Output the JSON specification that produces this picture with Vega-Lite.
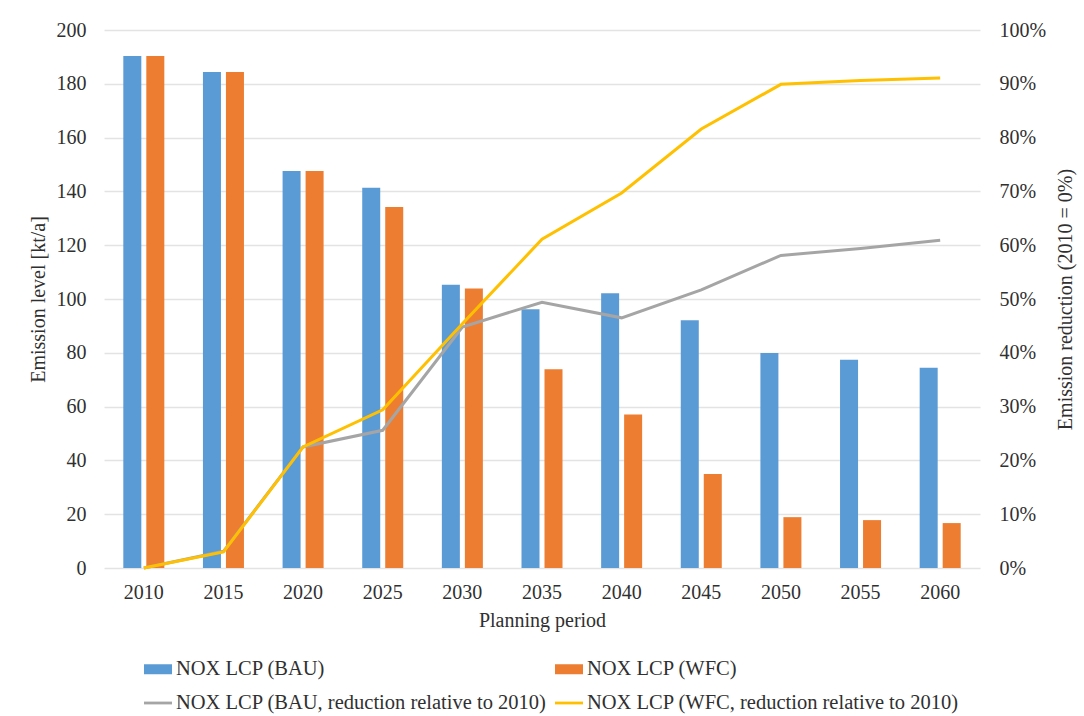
{
  "$schema": "https://vega.github.io/schema/vega-lite/v6.json",
  "width": 876,
  "height": 538,
  "autosize": {"type": "none"},
  "padding": {"left": 104, "top": 30, "right": 104, "bottom": 148},
  "background": "white",
  "config": {
    "font": "Times New Roman",
    "view": {"stroke": null},
    "axis": {
      "labelFont": "Times New Roman",
      "labelFontSize": 20,
      "labelColor": "#303030",
      "titleFont": "Times New Roman",
      "titleFontSize": 20,
      "titleFontWeight": "normal",
      "titleColor": "#303030",
      "ticks": false,
      "tickSize": 0,
      "domain": false,
      "gridColor": "#E3E3E3",
      "gridWidth": 1.3
    },
    "legend": {
      "labelFont": "Times New Roman",
      "labelFontSize": 20.5,
      "labelColor": "#303030",
      "labelLimit": 600
    }
  },
  "datasets": {
    "bars": [
      {"year": "2010", "series": "NOX LCP (BAU)", "value": 190.3},
      {"year": "2010", "series": "NOX LCP (WFC)", "value": 190.3},
      {"year": "2015", "series": "NOX LCP (BAU)", "value": 184.4},
      {"year": "2015", "series": "NOX LCP (WFC)", "value": 184.4},
      {"year": "2020", "series": "NOX LCP (BAU)", "value": 147.6},
      {"year": "2020", "series": "NOX LCP (WFC)", "value": 147.6},
      {"year": "2025", "series": "NOX LCP (BAU)", "value": 141.4},
      {"year": "2025", "series": "NOX LCP (WFC)", "value": 134.2},
      {"year": "2030", "series": "NOX LCP (BAU)", "value": 105.3},
      {"year": "2030", "series": "NOX LCP (WFC)", "value": 103.9},
      {"year": "2035", "series": "NOX LCP (BAU)", "value": 96.2},
      {"year": "2035", "series": "NOX LCP (WFC)", "value": 73.9},
      {"year": "2040", "series": "NOX LCP (BAU)", "value": 102.1},
      {"year": "2040", "series": "NOX LCP (WFC)", "value": 57.1},
      {"year": "2045", "series": "NOX LCP (BAU)", "value": 92.1},
      {"year": "2045", "series": "NOX LCP (WFC)", "value": 34.9},
      {"year": "2050", "series": "NOX LCP (BAU)", "value": 79.9},
      {"year": "2050", "series": "NOX LCP (WFC)", "value": 18.9},
      {"year": "2055", "series": "NOX LCP (BAU)", "value": 77.4},
      {"year": "2055", "series": "NOX LCP (WFC)", "value": 17.8},
      {"year": "2060", "series": "NOX LCP (BAU)", "value": 74.4},
      {"year": "2060", "series": "NOX LCP (WFC)", "value": 16.7}
    ],
    "lines": [
      {"year": "2010", "series": "NOX LCP (BAU, reduction relative to 2010)", "reduction": 0.0},
      {"year": "2015", "series": "NOX LCP (BAU, reduction relative to 2010)", "reduction": 0.031},
      {"year": "2020", "series": "NOX LCP (BAU, reduction relative to 2010)", "reduction": 0.225},
      {"year": "2025", "series": "NOX LCP (BAU, reduction relative to 2010)", "reduction": 0.256},
      {"year": "2030", "series": "NOX LCP (BAU, reduction relative to 2010)", "reduction": 0.448},
      {"year": "2035", "series": "NOX LCP (BAU, reduction relative to 2010)", "reduction": 0.494},
      {"year": "2040", "series": "NOX LCP (BAU, reduction relative to 2010)", "reduction": 0.465},
      {"year": "2045", "series": "NOX LCP (BAU, reduction relative to 2010)", "reduction": 0.517},
      {"year": "2050", "series": "NOX LCP (BAU, reduction relative to 2010)", "reduction": 0.581},
      {"year": "2055", "series": "NOX LCP (BAU, reduction relative to 2010)", "reduction": 0.594},
      {"year": "2060", "series": "NOX LCP (BAU, reduction relative to 2010)", "reduction": 0.609},
      {"year": "2010", "series": "NOX LCP (WFC, reduction relative to 2010)", "reduction": 0.0},
      {"year": "2015", "series": "NOX LCP (WFC, reduction relative to 2010)", "reduction": 0.030},
      {"year": "2020", "series": "NOX LCP (WFC, reduction relative to 2010)", "reduction": 0.225},
      {"year": "2025", "series": "NOX LCP (WFC, reduction relative to 2010)", "reduction": 0.294},
      {"year": "2030", "series": "NOX LCP (WFC, reduction relative to 2010)", "reduction": 0.454},
      {"year": "2035", "series": "NOX LCP (WFC, reduction relative to 2010)", "reduction": 0.611},
      {"year": "2040", "series": "NOX LCP (WFC, reduction relative to 2010)", "reduction": 0.697},
      {"year": "2045", "series": "NOX LCP (WFC, reduction relative to 2010)", "reduction": 0.816},
      {"year": "2050", "series": "NOX LCP (WFC, reduction relative to 2010)", "reduction": 0.899},
      {"year": "2055", "series": "NOX LCP (WFC, reduction relative to 2010)", "reduction": 0.906},
      {"year": "2060", "series": "NOX LCP (WFC, reduction relative to 2010)", "reduction": 0.911}
    ]
  },
  "layer": [
    {
      "data": {"name": "bars"},
      "mark": {"type": "bar"},
      "encoding": {
        "x": {
          "field": "year",
          "type": "nominal",
          "scale": {"paddingInner": 0.485, "paddingOuter": 0.2425},
          "axis": {
            "title": "Planning period",
            "labelFont": "Times New Roman",
            "titleFont": "Times New Roman",
            "labelAngle": 0,
            "labelPadding": 14,
            "titlePadding": 8,
            "grid": false
          }
        },
        "xOffset": {
          "field": "series",
          "type": "nominal",
          "scale": {"paddingInner": 0.217, "paddingOuter": 0}
        },
        "y": {
          "field": "value",
          "type": "quantitative",
          "scale": {"domain": [0, 200], "nice": false},
          "axis": {
            "title": "Emission level [kt/a]",
            "labelFont": "Times New Roman",
            "titleFont": "Times New Roman",
            "values": [0, 20, 40, 60, 80, 100, 120, 140, 160, 180, 200],
            "labelPadding": 18,
            "titlePadding": 8,
            "grid": true
          }
        },
        "color": {
          "field": "series",
          "type": "nominal",
          "scale": {
            "domain": ["NOX LCP (BAU)", "NOX LCP (WFC)", "NOX LCP (BAU, reduction relative to 2010)", "NOX LCP (WFC, reduction relative to 2010)"],
            "range": ["#5B9BD5", "#ED7D31", "#A5A5A5", "#FFC000"]
          },
          "legend": {
            "title": null,
            "orient": "none",
            "direction": "horizontal",
            "legendX": 40,
            "legendY": 625,
            "columns": 2,
            "columnPadding": 8,
            "rowPadding": 9,
            "padding": 0,
            "symbolSize": 784,
            "labelOffset": 4,
            "labelFont": "Times New Roman",
            "labelFontSize": 20.5,
            "symbolStrokeWidth": 0,
            "encode": {
              "symbols": {
                "update": {
                  "shape": {"signal": "indexof(datum.value, 'reduction') >= 0 ? 'M-1,-0.1H1V0.1H-1Z' : 'M-1,-0.357H1V0.357H-1Z'"},
                  "fill": {"scale": "color", "field": "value"},
                  "opacity": {"value": 1},
                  "strokeWidth": {"value": 0}
                }
              }
            }
          }
        }
      }
    },
    {
      "data": {"name": "lines"},
      "mark": {"type": "line", "strokeWidth": 3},
      "encoding": {
        "x": {"field": "year", "type": "nominal"},
        "y": {
          "field": "reduction",
          "type": "quantitative",
          "scale": {"domain": [0, 1], "nice": false},
          "axis": {
            "orient": "right",
            "title": "Emission reduction (2010 = 0%)",
            "labelFont": "Times New Roman",
            "titleFont": "Times New Roman",
            "format": ".0%",
            "values": [0, 0.1, 0.2, 0.3, 0.4, 0.5, 0.6, 0.7, 0.8, 0.9, 1.0],
            "labelPadding": 19,
            "titlePadding": 10,
            "titleAngle": 270,
            "titleBaseline": "top",
            "grid": false
          }
        },
        "color": {
          "field": "series",
          "type": "nominal",
          "legend": {
            "title": null,
            "orient": "none",
            "direction": "horizontal",
            "legendX": 40,
            "legendY": 625,
            "columns": 2,
            "columnPadding": 8,
            "rowPadding": 9,
            "padding": 0,
            "symbolSize": 784,
            "labelOffset": 4,
            "labelFont": "Times New Roman",
            "labelFontSize": 20.5,
            "symbolStrokeWidth": 0,
            "encode": {
              "symbols": {
                "update": {
                  "shape": {"signal": "indexof(datum.value, 'reduction') >= 0 ? 'M-1,-0.1H1V0.1H-1Z' : 'M-1,-0.357H1V0.357H-1Z'"},
                  "fill": {"scale": "color", "field": "value"},
                  "opacity": {"value": 1},
                  "strokeWidth": {"value": 0}
                }
              }
            }
          }
        }
      }
    }
  ],
  "resolve": {"scale": {"y": "independent"}}
}
